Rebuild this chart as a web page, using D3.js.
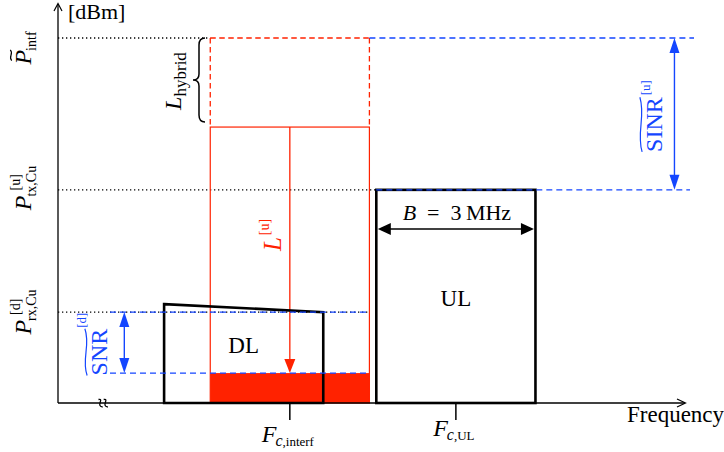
<!DOCTYPE html>
<html>
<head>
<meta charset="utf-8">
<script src="https://cdn.jsdelivr.net/npm/d3@7"></script>
<style>
  body { margin: 0; background: #fff; }
  svg { display: block; font-family: "Liberation Serif", "DejaVu Serif", serif; }
</style>
</head>
<body>
<div id="chart"></div>
<script>
// frequency axis (MHz from origin) and power axis (dB above the floor of the plot)
const bandNames = ['DL', 'interf', 'UL'];
const bandStart = [2.0, 2.87, 6.0];
const bandEnd = [5.0, 5.87, 9.0];
const dlTopEdge = [27.1, 24.9];          // DL spectrum top, left and right edge
const levelNames = ['noise', 'P_rx', 'P_tx', 'L_top', 'P_intf'];
const levelValues = [8.2, 24.9, 58.4, 75.6, 100];
const tickNames = ['interf', 'UL'];
const tickValues = [4.37, 7.5];
const bandwidthLabel = 'B = 3 MHz';

const W = 724, H = 452;
const RED = '#ff2200', BLUE = '#1446ff';

const x = d3.scaleLinear().domain([0, 11.8]).range([58, 684]);
const y = d3.scaleLinear().domain([0, 100]).range([403, 38]);
const lv = name => y(levelValues[levelNames.indexOf(name)]);
const band = name => bandNames.indexOf(name);

const svg = d3.select('#chart').append('svg')
    .attr('width', W).attr('height', H).attr('viewBox', `0 0 ${W} ${H}`);

function hline(yy, x0, x1, color, dash, sw) {
    svg.append('line').attr('x1', x0).attr('x2', x1).attr('y1', yy).attr('y2', yy)
        .attr('stroke', color).attr('stroke-width', sw || 1.2)
        .attr('stroke-dasharray', dash || null);
}
function vline(xx, y0, y1, color, dash, sw) {
    svg.append('line').attr('x1', xx).attr('x2', xx).attr('y1', y0).attr('y2', y1)
        .attr('stroke', color).attr('stroke-width', sw || 1.2)
        .attr('stroke-dasharray', dash || null);
}
// filled arrowhead with its tip at (tx,ty), pointing in direction ang (deg)
function head(tx, ty, ang, color, len, half) {
    const a = ang * Math.PI / 180;
    const ux = Math.cos(a), uy = Math.sin(a);
    const bx = tx - ux * len, by = ty - uy * len;
    svg.append('path')
        .attr('d', `M${tx},${ty} L${bx - uy * half},${by + ux * half} L${bx + uy * half},${by - ux * half} Z`)
        .attr('fill', color);
}

// text built from pieces (math style), optionally rotated
// piece: {s, it, size, dy, pre, stack (start where previous piece started), tilde, amp}
function mathLabel(tx, ty, rot, parts, color) {
    const g = svg.append('g').attr('transform', `translate(${tx},${ty}) rotate(${rot})`);
    let cx = 0, last = 0;
    const nodes = [];
    parts.forEach(p => {
        const t = g.append('text').attr('y', p.dy || 0)
            .attr('font-size', p.size).attr('fill', color)
            .attr('font-style', p.it ? 'italic' : 'normal').text(p.s);
        const w = t.node().getComputedTextLength();
        const x0 = (p.stack ? last : cx) + (p.pre || 0);
        nodes.push({ t, x0, w, p });
        last = x0;
        cx = Math.max(cx, x0 + w);
    });
    const sh = -cx / 2;
    nodes.forEach(n => {
        n.t.attr('x', n.x0 + sh);
        if (n.p.tilde) {
            const a = n.x0 + sh + (n.p.tl || 0), b = n.x0 + sh + n.w;
            const ty0 = n.p.tilde, amp = n.p.amp || 2.5;
            g.append('path')
                .attr('d', `M${a},${ty0 + amp * 0.4} C${a + (b - a) * 0.35},${ty0 - amp * 1.7} ${a + (b - a) * 0.65},${ty0 + amp * 1.7} ${b},${ty0 - amp * 0.4}`)
                .attr('fill', 'none').attr('stroke', color).attr('stroke-width', 1.2);
        }
    });
    return g;
}

// ---- guide lines ----
const dot = '1.3,2.7', dash = '6,4', rdash = '5.5,3.5';
hline(lv('P_intf'), x(0), x(bandStart[band('interf')]), '#000', dot, 1.3);
hline(lv('P_tx'), x(0), x(bandStart[band('UL')]), '#000', dot, 1.3);
hline(lv('P_rx'), x(0), x(bandEnd[band('interf')]), '#000', dot, 1.3);

// ---- interference band (red) ----
const ri = band('interf');
const rx0 = x(bandStart[ri]), rx1 = x(bandEnd[ri]);
svg.append('rect').attr('x', rx0).attr('y', lv('noise'))
    .attr('width', rx1 - rx0).attr('height', y(0) - lv('noise')).attr('fill', RED);
hline(lv('P_intf'), rx0, rx1, RED, rdash, 1.3);
vline(rx0, lv('P_intf'), lv('L_top'), RED, rdash, 1.3);
vline(rx1, lv('P_intf'), lv('L_top'), RED, rdash, 1.3);
svg.append('rect').attr('x', rx0).attr('y', lv('L_top'))
    .attr('width', rx1 - rx0).attr('height', y(0) - lv('L_top'))
    .attr('fill', 'none').attr('stroke', RED).attr('stroke-width', 1.2);
const fInt = x(tickValues[tickNames.indexOf('interf')]);
vline(fInt, lv('L_top'), lv('noise') - 12, RED, null, 1.3);
head(fInt, lv('noise'), 90, RED, 14, 5.5);

// ---- axes ----
vline(x(0), y(0), 4, '#000', null, 1.3);
svg.append('path').attr('d', `M${x(0) - 4},${11} L${x(0)},${3.5} L${x(0) + 4},${11}`)
    .attr('fill', 'none').attr('stroke', '#000').attr('stroke-width', 1.2);
hline(y(0), x(0), x(11.8) + 1, '#000', null, 1.3);
svg.append('path').attr('d', `M${x(11.8) - 7},${y(0) - 4} L${x(11.8) + 1.5},${y(0)} L${x(11.8) - 7},${y(0) + 4}`)
    .attr('fill', 'none').attr('stroke', '#000').attr('stroke-width', 1.2);
// axis break mark
[-2.6, 2.6].forEach(d => {
    const cx = x(0.85) + d, y0 = y(0);
    svg.append('path')
        .attr('d', `M${cx - 2},${y0 - 3.5} C${cx + 4},${y0 - 5} ${cx - 5},${y0 + 3.5} ${cx + 2.2},${y0 + 4}`)
        .attr('fill', 'none').attr('stroke', '#000').attr('stroke-width', 1.3);
});

// ticks
tickValues.forEach(v => vline(x(v), y(0), y(0) + 17, '#000', null, 1.5));

// ---- DL and UL spectra ----
const di = band('DL'), ui = band('UL');
svg.append('path')
    .attr('d', `M${x(bandStart[di])},${y(dlTopEdge[0])} L${x(bandEnd[di])},${y(dlTopEdge[1])} L${x(bandEnd[di])},${y(0)} L${x(bandStart[di])},${y(0)} Z`)
    .attr('fill', 'none').attr('stroke', '#000').attr('stroke-width', 2.6).attr('stroke-linejoin', 'miter');
svg.append('rect').attr('x', x(bandStart[ui])).attr('y', lv('P_tx'))
    .attr('width', x(bandEnd[ui]) - x(bandStart[ui])).attr('height', y(0) - lv('P_tx'))
    .attr('fill', 'none').attr('stroke', '#000').attr('stroke-width', 2.6);

svg.append('text').attr('x', (x(bandStart[di]) + x(bandEnd[di])) / 2).attr('y', 353)
    .attr('text-anchor', 'middle').attr('font-size', 23).text('DL');
svg.append('text').attr('x', (x(bandStart[ui]) + x(bandEnd[ui])) / 2).attr('y', 306)
    .attr('text-anchor', 'middle').attr('font-size', 23).text('UL');

// bandwidth arrow
const bwY = 229;
hline(bwY, x(bandStart[ui]) + 10, x(bandEnd[ui]) - 10, '#000', null, 1.3);
head(x(bandStart[ui]) + 1.5, bwY, 180, '#000', 13, 6);
head(x(bandEnd[ui]) - 1.5, bwY, 0, '#000', 13, 6);
const bw = bandwidthLabel.split(' ');
mathLabel((x(bandStart[ui]) + x(bandEnd[ui])) / 2 + 1, 220, 0, [
    { s: bw[0], it: true, size: 22 },
    { s: '\u2002' + bw[1] + '\u2002' + bw[2], size: 22 },
    { s: '\u2009' + bw[3], size: 22 }
], '#000');

// ---- blue dashed levels and SNR / SINR ----
hline(lv('P_rx'), 110, rx1, BLUE, dash, 1.3);
hline(lv('noise'), 110, rx1, BLUE, dash, 1.3);
hline(lv('P_intf'), rx1, 694, BLUE, dash, 1.3);
hline(lv('P_tx'), x(bandStart[ui]), 690, BLUE, dash, 1.3);

const snrX = x(1.25);
vline(snrX, lv('P_rx') + 10, lv('noise') - 10, BLUE, null, 1.4);
head(snrX, lv('P_rx'), -90, BLUE, 15, 5);
head(snrX, lv('noise'), 90, BLUE, 15, 5);
const sinrX = x(11.62);
vline(sinrX, lv('P_intf') + 10, lv('P_tx') - 10, BLUE, null, 1.4);
head(sinrX, lv('P_intf'), -90, BLUE, 15, 5);
head(sinrX, lv('P_tx'), 90, BLUE, 15, 5);

mathLabel(107, 344, -90, [
    { s: 'SNR', size: 24, tilde: -21, amp: 2.8 },
    { s: '[d]', size: 13, dy: -21, pre: 1 }
], BLUE);
mathLabel(662, 116, -90, [
    { s: 'SINR', size: 24, tilde: -21, amp: 2.8 },
    { s: '[u]', size: 13, dy: -12, pre: 2 }
], BLUE);

// ---- hybrid loss brace ----
const bTop = lv('P_intf'), bBot = lv('L_top') - 5, bMid = (bTop + bBot) / 2, bx = 199;
svg.append('path')
    .attr('d', `M${bx + 6},${bTop} Q${bx},${bTop} ${bx},${bTop + 7} L${bx},${bMid - 6} Q${bx},${bMid} ${bx - 6},${bMid} Q${bx},${bMid} ${bx},${bMid + 6} L${bx},${bBot - 7} Q${bx},${bBot} ${bx + 6},${bBot}`)
    .attr('fill', 'none').attr('stroke', '#000').attr('stroke-width', 1.5);

// ---- math labels ----
mathLabel(181, 81, -90, [
    { s: 'L', it: true, size: 24 },
    { s: 'hybrid', size: 17, dy: 5 }
], '#000');
mathLabel(281, 235, -90, [
    { s: 'L', it: true, size: 25 },
    { s: '[u]', size: 14, dy: -12, pre: 2 }
], RED);

mathLabel(31, 48, -90, [
    { s: 'P', it: true, size: 24, tilde: -20, amp: 1.8, tl: 4 },
    { s: 'intf', size: 14, dy: 5, pre: -1 }
], '#000');
mathLabel(31, 188, -90, [
    { s: 'P', it: true, size: 24 },
    { s: 'tx,Cu', size: 14, dy: 5, pre: -1 },
    { s: '[u]', size: 14, dy: -11, stack: true, pre: 6 }
], '#000');
mathLabel(31, 312, -90, [
    { s: 'P', it: true, size: 24 },
    { s: 'rx,Cu', size: 14, dy: 5, pre: -1 },
    { s: '[d]', size: 14, dy: -11, stack: true, pre: 6 }
], '#000');

svg.append('text').attr('x', 68).attr('y', 19).attr('font-size', 22).text('[dBm]');
svg.append('text').attr('x', 627).attr('y', 422).attr('font-size', 23).text('Frequency');

// tick labels
const tickBase = [442, 436];
tickValues.forEach((v, i) => {
    mathLabel(x(v) - 2, tickBase[i], 0, [
        { s: 'F', it: true, size: 24 },
        { s: 'c', it: true, size: 16, dy: 4, pre: -1 },
        { s: ',' + tickNames[i], size: 13, dy: 4 }
    ], '#000');
});
</script>
</body>
</html>
